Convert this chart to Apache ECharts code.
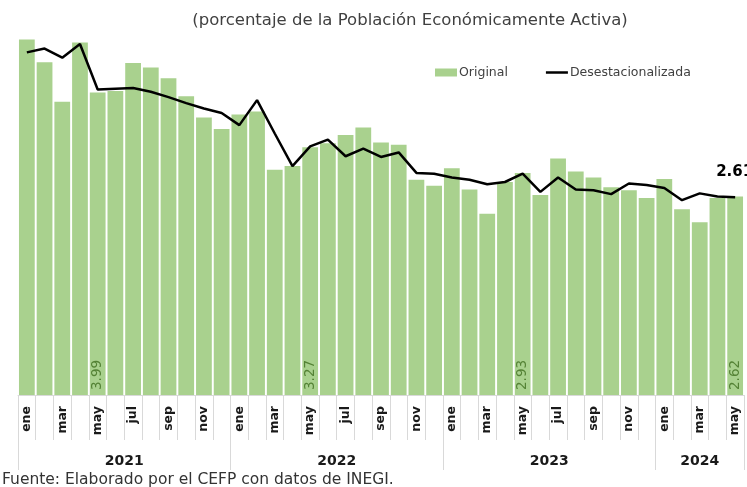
<!DOCTYPE html>
<html>
<head>
<meta charset="utf-8">
<script src="https://cdn.jsdelivr.net/npm/echarts@6/dist/echarts.min.js"></script>
<style>
	html, body { margin: 0; padding: 0; background: #fff; }
	#chart { width: 747px; height: 487px; }
</style>
</head>
<body>
<div id="chart"></div>
<script>
// meses y años
const meses = ['ene', 'feb', 'mar', 'abr', 'may', 'jun', 'jul', 'ago', 'sep', 'oct', 'nov', 'dic'];
const years = ['2021', '2022', '2023', '2024'];
const monthsPerYear = [12, 12, 12, 5];

// tasa original (barras)
const original = [
	4.69, 4.39, 3.87, 4.65, 3.99, 4.01, 4.38, 4.32, 4.18, 3.94, 3.66, 3.51,
	3.70, 3.74, 2.97, 3.02, 3.27, 3.32, 3.43, 3.53, 3.33, 3.30, 2.84, 2.76,
	2.99, 2.71, 2.39, 2.81, 2.93, 2.64, 3.12, 2.95, 2.87, 2.74, 2.70, 2.60,
	2.85, 2.45, 2.28, 2.60, 2.62
];
// serie desestacionalizada (línea)
const desest = [
	4.52, 4.57, 4.45, 4.63, 4.03, 4.04, 4.05, 4.00, 3.93, 3.85, 3.78, 3.72,
	3.56, 3.89, 3.45, 3.02, 3.28, 3.37, 3.15, 3.25, 3.14, 3.20, 2.93, 2.92,
	2.87, 2.84, 2.78, 2.81, 2.92, 2.68, 2.87, 2.71, 2.70, 2.65, 2.79, 2.77,
	2.73, 2.57, 2.66, 2.62, 2.61
];

// categorías mensuales
let categorias = [];
monthsPerYear.forEach((n) => {
	for (let m = 0; m < n; m++) categorias.push(meses[m]);
});
const total = categorias.length;

// eje de años a medio mes: etiqueta en el centro de cada año, marca en los límites
let yearAxis = new Array(total * 2 + 1).fill('');
let yearTicks = [0];
let acc = 0;
monthsPerYear.forEach((n, y) => {
	yearAxis[acc * 2 + n] = years[y];
	acc += n;
	yearTicks.push(acc * 2);
});

const font = 'DejaVu Sans';
let chart = echarts.init(document.getElementById('chart'));

let option = {
	animation: false,
	title: [
		{
			text: '(porcentaje de la Población Económicamente Activa)',
			left: 405,
			textAlign: 'center',
			top: 7,
			textStyle: { fontFamily: font, fontSize: 16.5, fontWeight: 'normal', color: '#404040' },
		},
		{
			text: 'Fuente: Elaborado por el CEFP con datos de INEGI.',
			left: 2,
			top: 472,
			padding: 0,
			textStyle: { fontFamily: font, fontSize: 15.5, fontWeight: 'normal', color: '#333' },
		},
	],
	legend: {
		top: 61,
		left: 430,
		itemGap: 38,
		itemWidth: 22,
		itemHeight: 8,
		textStyle: { fontFamily: font, fontSize: 12.5, color: '#404040', padding: [0, 0, 0, -3] },
		data: [
			{ name: 'Original', icon: 'rect' },
			{
				name: 'Desestacionalizada',
				icon: 'path://M0,0L22,0L22,0.01L0,0.01Z M0,2.75L22,2.75L22,5.25L0,5.25Z M0,7.99L22,7.99L22,8L0,8Z',
			},
		],
	},
	grid: { left: 18, right: 3, top: 16, bottom: 92 },
	xAxis: [
		{
			type: 'category',
			data: categorias,
			axisLine: { lineStyle: { color: '#d9d9d9' } },
			axisTick: { show: true, interval: 0, length: 45, lineStyle: { color: '#d9d9d9' } },
			axisLabel: {
				interval: 1,
				rotate: 90,
				margin: 11,
				fontFamily: font,
				fontSize: 12.5,
				fontWeight: 'bold',
				color: '#1a1a1a',
			},
		},
		{
			type: 'category',
			position: 'bottom',
			boundaryGap: false,
			data: yearAxis,
			axisLine: { show: false },
			axisTick: {
				show: true,
				length: 75,
				interval: (i) => yearTicks.indexOf(i) >= 0,
				lineStyle: { color: '#d9d9d9' },
			},
			axisLabel: {
				interval: (i, v) => v !== '',
				margin: 59,
				fontFamily: font,
				fontSize: 14,
				fontWeight: 'bold',
				color: '#1a1a1a',
			},
		},
	],
	yAxis: { type: 'value', min: 0, max: 5, show: false },
	series: [
		{
			name: 'Original',
			type: 'bar',
			data: original,
			barCategoryGap: '11%',
			itemStyle: { color: '#A9D18E' },
			label: {
				show: true,
				position: 'insideBottom',
				rotate: 90,
				align: 'left',
				verticalAlign: 'middle',
				distance: 5,
				fontFamily: font,
				fontSize: 13.5,
				color: '#548235',
				formatter: (p) => (p.dataIndex % 12 === 4 ? p.value.toFixed(2) : ''),
			},
		},
		{
			name: 'Desestacionalizada',
			type: 'line',
			data: desest,
			symbol: 'none',
			lineStyle: { color: '#000', width: 2.5 },
			itemStyle: { color: '#000' },
			endLabel: {
				show: true,
				offset: [-27, -25],
				fontFamily: font,
				fontSize: 15,
				fontWeight: 'bold',
				color: '#000',
				formatter: (p) => p.value.toFixed(2),
			},
		},
	],
};
chart.setOption(option);
</script>
</body>
</html>
